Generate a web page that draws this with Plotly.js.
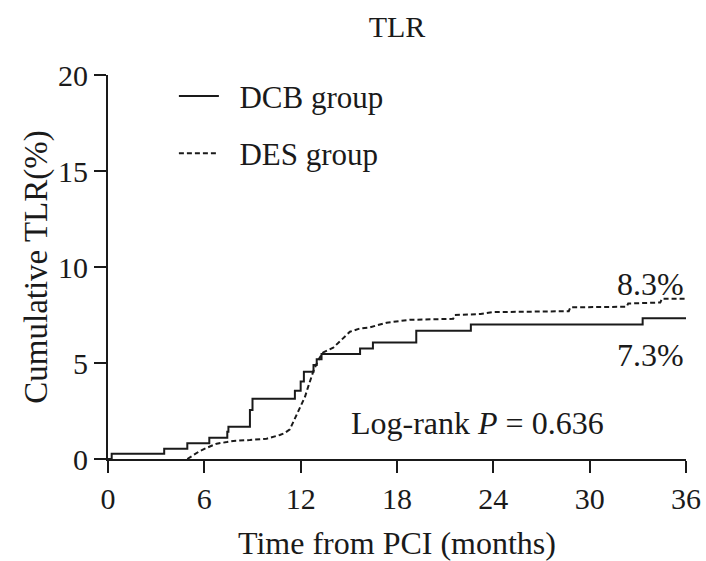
<!DOCTYPE html>
<html>
<head>
<meta charset="utf-8">
<script src="https://cdn.plot.ly/plotly-3.0.1.min.js"></script>
<style>html,body{margin:0;padding:0;background:#fff}#chart{width:706px;height:561px}</style>
</head>
<body>
<div id="chart"></div>
<script>
// DCB group (step curve, months vs cumulative %)
var dcbMonths = [0, 0.23, 3.5, 4.94, 6.31, 7.43, 7.5, 8.84, 9.0, 11.64, 12.0, 12.2, 12.8, 13.0, 13.3, 15.7, 16.5, 19.2, 22.6, 33.3, 36];
var dcbTLR    = [0, 0.27, 0.54, 0.82, 1.11, 1.42, 1.68, 2.55, 3.14, 3.55, 4.03, 4.55, 4.9, 5.2, 5.47, 5.76, 6.07, 6.68, 7.0, 7.33, 7.33];
// DES group
var desMonths = [4.94, 5.3, 5.73, 6.2, 6.77, 7.4, 7.8, 8.84, 9.88, 10.7, 11.0, 11.33, 11.64, 11.96, 12.27, 12.47, 12.78, 13.1, 13.4, 14.03, 14.55, 15.07, 15.7, 16.3, 16.7, 17.35, 18.8, 21.5, 21.6, 23.2, 24.0, 28.7, 28.8, 32.3, 32.4, 34.4, 34.5, 36];
var desTLR    = [0, 0.2, 0.42, 0.6, 0.8, 0.88, 0.94, 0.99, 1.06, 1.25, 1.35, 1.55, 2.1, 2.6, 3.24, 3.77, 4.55, 5.16, 5.55, 5.8, 6.2, 6.63, 6.8, 6.85, 6.95, 7.1, 7.25, 7.3, 7.5, 7.55, 7.65, 7.7, 7.9, 7.93, 8.1, 8.15, 8.35, 8.35];
var seriesNames = ["DCB group", "DES group"];
var xTicks = [0, 6, 12, 18, 24, 30, 36];
var yTicks = [0, 5, 10, 15, 20];

var FONT = "Liberation Serif, Times New Roman, serif";
var INK = "#1a1a1a";
var pad = "\u00a0\u00a0";
var traces = [
  {x: dcbMonths, y: dcbTLR, name: pad + seriesNames[0], type: "scatter", mode: "lines",
   line: {shape: "hv", color: INK, width: 2}, legendgroup: "a", cliponaxis: false},
  {x: desMonths, y: desTLR, name: pad + seriesNames[1], type: "scatter", mode: "lines",
   line: {shape: "linear", color: INK, width: 2, dash: "5px,3px"}, legendgroup: "b", cliponaxis: false}
];
var layout = {
  width: 706, height: 561,
  margin: {l: 108, r: 20, t: 75, b: 102},
  paper_bgcolor: "#fff", plot_bgcolor: "#fff",
  font: {family: FONT, size: 30, color: INK},
  title: {text: "TLR", x: 0.5, xref: "paper", xanchor: "center", y: 0.953, yanchor: "middle", font: {family: FONT, size: 30, color: INK}},
  showlegend: true,
  legend: {x: 0.114, y: 1.015, xanchor: "left", yanchor: "top", bgcolor: "rgba(0,0,0,0)",
           font: {family: FONT, size: 31, color: INK}, tracegroupgap: 14, itemwidth: 40},
  xaxis: {range: [0, 36], tickvals: xTicks, ticktext: xTicks.map(String), showgrid: false, zeroline: false,
          showline: true, linecolor: INK, linewidth: 2, ticks: "outside", ticklen: 12, tickwidth: 2, tickcolor: INK,
          tickfont: {family: FONT, size: 30}, title: {text: "Time from PCI (months)", font: {family: FONT, size: 32}, standoff: 19}},
  yaxis: {range: [0, 20], tickvals: yTicks, ticktext: yTicks.map(String), showgrid: false, zeroline: false,
          showline: true, linecolor: INK, linewidth: 2, ticks: "outside", ticklen: 12, tickwidth: 2, tickcolor: INK,
          tickfont: {family: FONT, size: 30}, title: {text: "Cumulative TLR(%)", font: {family: FONT, size: 33}, standoff: 0}},
  annotations: [
    {text: "8.3%", x: 1.0, y: 0.455, xref: "paper", yref: "paper", xanchor: "right", yanchor: "middle", showarrow: false, font: {family: FONT, size: 32}},
    {text: "7.3%", x: 1.0, y: 0.27, xref: "paper", yref: "paper", xanchor: "right", yanchor: "middle", showarrow: false, font: {family: FONT, size: 32}},
    {text: "Log-rank <i>P</i> = 0.636", x: 0.64, y: 0.095, xref: "paper", yref: "paper", xanchor: "center", yanchor: "middle", showarrow: false, font: {family: FONT, size: 32}}
  ]
};
Plotly.newPlot("chart", traces, layout, {displayModeBar: false, staticPlot: true});
</script>
</body>
</html>
